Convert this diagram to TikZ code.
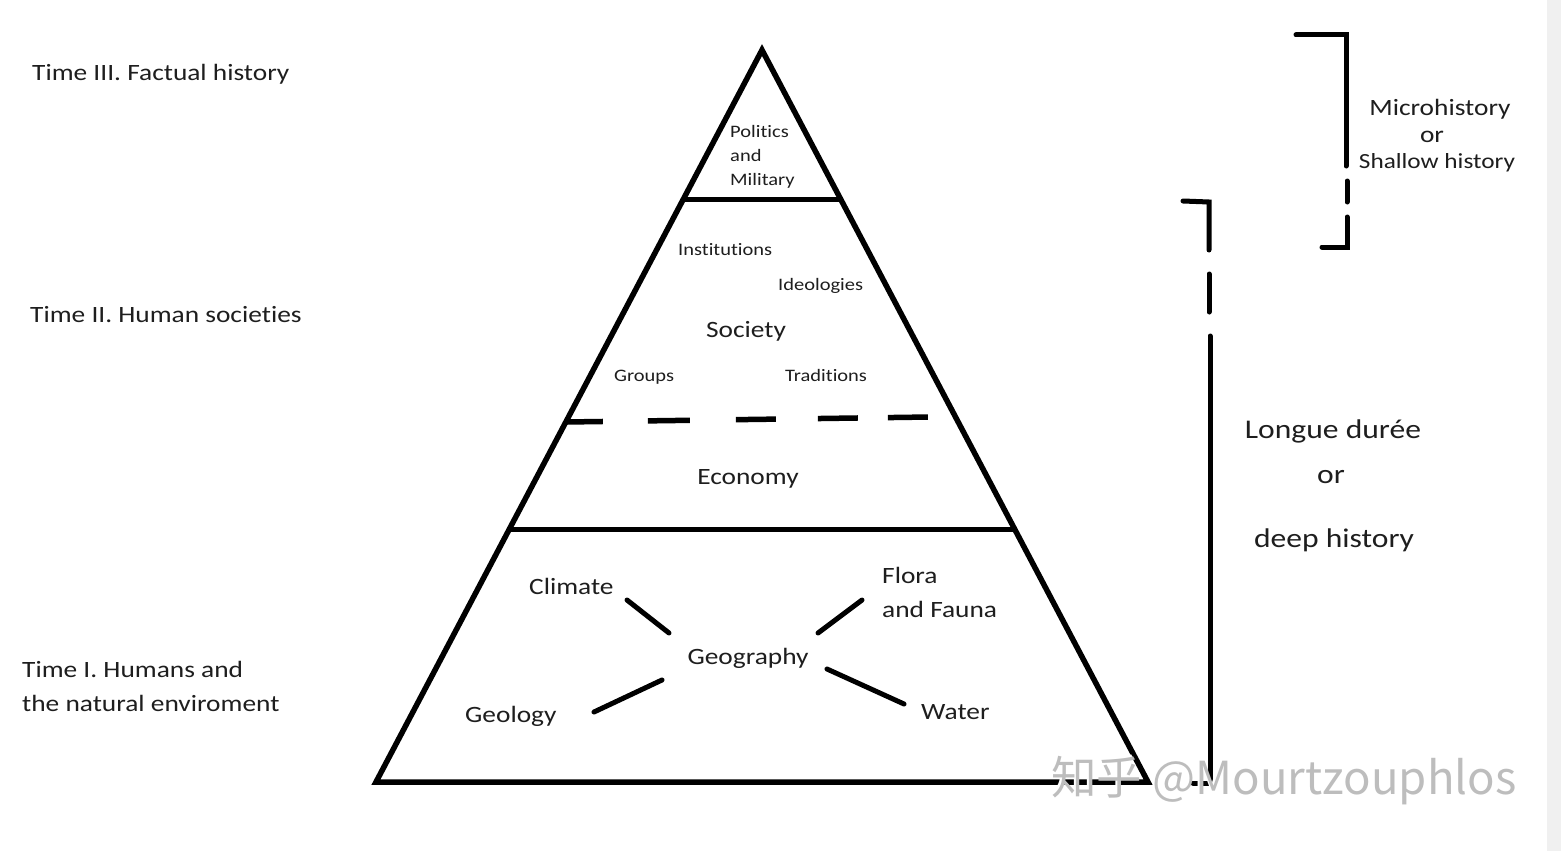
\documentclass[tikz,border=0pt]{standalone}
\usepackage{fontspec}
\setmainfont{Carlito}[FakeStretch=1.17, Ligatures=NoCommon]
\newfontfamily\cjkfont{Noto Sans CJK SC}
\usetikzlibrary{calc}
\definecolor{txt}{HTML}{1E1E1E}
\definecolor{stripgray}{HTML}{F0F0F0}
\definecolor{wmgray}{HTML}{BDBDBD}
\begin{document}
\begin{tikzpicture}[x=1pt,y=-1pt,
  lbl/.style={inner sep=0pt, text=txt, font=\fontsize{23.4}{28}\selectfont},
  small/.style={inner sep=0pt, text=txt, font=\fontsize{17.5}{21}\selectfont},
  big/.style={inner sep=0pt, text=txt, font=\fontsize{27}{32}\selectfont},
  band/.style={line width=5pt},
  spoke/.style={line width=5pt, line cap=round},
  bracket/.style={line width=5pt, line cap=round, line join=miter},
  wm/.style={inner sep=0pt, font=\cjkfont\fontsize{45.5}{50}\selectfont}]
\fill[white] (0,0) rectangle (1561,851);
\fill[stripgray] (1547,0) rectangle (1561,851);
\useasboundingbox (0,0) rectangle (1561,851);

% pyramid
\coordinate (apex) at (762,50);
\coordinate (bl) at (376,782);
\coordinate (br) at (1148,782);
\draw[line width=5.5pt, line join=miter] (apex) -- (bl) -- (br) -- cycle;
\draw[band] ($(apex)!0.2049!(bl)$) -- ($(apex)!0.2049!(br)$);
\draw[band] ($(apex)!0.6557!(bl)$) -- ($(apex)!0.6557!(br)$);
\coordinate (dashend) at (930,417);
\draw[band, line width=5.5pt,
  dash pattern=on 37pt off 45pt on 42pt off 46pt on 40pt off 42pt on 40pt off 30pt on 40pt off 100pt]
  ($(apex)!0.5082!(bl)$) -- (dashend);

% brackets
\draw[bracket] (1296,35) -- (1346,35) -- (1346,166);
\draw[bracket] (1347,181) -- (1347,202);
\draw[bracket] (1347,217) -- (1347,247) -- (1322,247);
\draw[bracket] (1183,201) -- (1209,202) -- (1209,250);
\draw[bracket] (1209,274) -- (1209,312);
\draw[bracket] (1210,336) -- (1210,783) -- (1193,783);

% left labels
\node[lbl, anchor=mid west] (t3) at (32,78) {Time III. Factual history};
\node[lbl, anchor=mid west] (t2) at (30,320) {Time II. Human societies};
\node[lbl, anchor=mid west] (t1a) at (22,675) {Time I. Humans and};
\node[lbl, anchor=mid west] (t1b) at (22,709) {the natural enviroment};

% top band
\node[small, anchor=mid west] (pol1) at (730,135) {Politics};
\node[small, anchor=mid west] (pol2) at (730,159) {and};
\node[small, anchor=mid west] (pol3) at (730,183) {Military};

% society band
\node[small, anchor=mid west] (inst) at (678,253) {Institutions};
\node[small, anchor=mid west] (ideo) at (778,288) {Ideologies};
\node[lbl] (soc) at (746,331) {Society};
\node[small, anchor=mid west] (grp) at (614,379) {Groups};
\node[small, anchor=mid west] (trad) at (785,379) {Traditions};
\node[lbl] (eco) at (748,479) {Economy};

% geography band
\node[lbl, anchor=mid west] (clim) at (529,592) {Climate};
\node[lbl, anchor=mid west] (flora1) at (882,581) {Flora};
\node[lbl, anchor=mid west] (flora2) at (882,615) {and Fauna};
\node[lbl] (geo) at (748,658) {Geography};
\node[lbl, anchor=mid west] (geol) at (465,720) {Geology};
\node[lbl, anchor=mid west] (water) at (921,717) {Water};

\coordinate (s1a) at (627,600); \coordinate (s1b) at (669,633);
\coordinate (s2a) at (862,600); \coordinate (s2b) at (818,633);
\coordinate (s3a) at (594,712); \coordinate (s3b) at (662,680);
\coordinate (s4a) at (827,669); \coordinate (s4b) at (904,704);
\draw[spoke] (s1a) -- (s1b);
\draw[spoke] (s2a) -- (s2b);
\draw[spoke] (s3a) -- (s3b);
\draw[spoke] (s4a) -- (s4b);

% right labels
\node[lbl] (mic1) at (1440,109) {Microhistory};
\node[lbl] (mic2) at (1432,137) {or};
\node[lbl, font=\fontsize{21.6}{26}\selectfont] (mic3) at (1437,163) {Shallow history};
\node[big] (lon1) at (1333,431) {Longue durée};
\node[big] (lon2) at (1331,477) {or};
\node[big] (lon3) at (1334,540) {deep history};

% watermark
\node[wm, text=white] (wmw) at (1282,779) {知乎 @Mourtzouphlos};
\node[wm, text=wmgray] (wmg) at (1284,781) {知乎 @Mourtzouphlos};
\end{tikzpicture}
\end{document}
